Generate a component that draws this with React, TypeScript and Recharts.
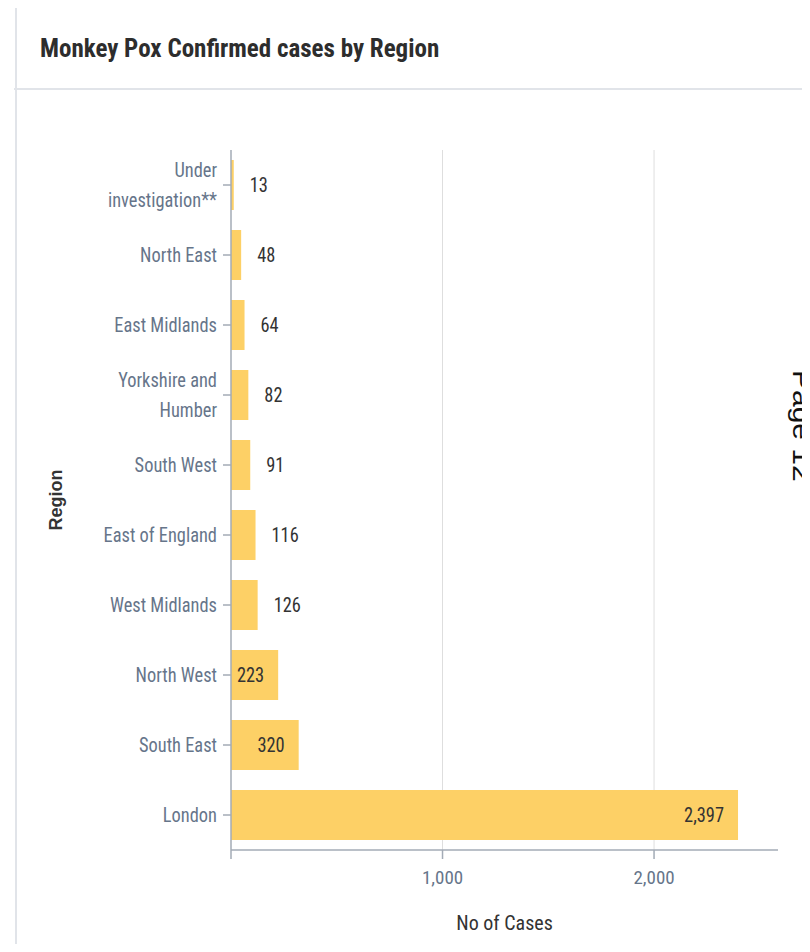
import { BarChart, Bar, XAxis, YAxis, CartesianGrid, LabelList } from "recharts";

const regions = [
  "Under<br>investigation**",
  "North East",
  "East Midlands",
  "Yorkshire and<br>Humber",
  "South West",
  "East of England",
  "West Midlands",
  "North West",
  "South East",
  "London",
];
const cases = [13, 48, 64, 82, 91, 116, 126, 223, 320, 2397];
const xTicks = [0, 1000, 2000];
const gridValues = [1000, 2000];
const xMax = 2586;

const data = regions.map((region, i) => ({ region, cases: cases[i] }));

const NARROW = '"Liberation Sans Narrow", "Arial Narrow", "Roboto Condensed", sans-serif';
const TICK_GREY = "#66758a";
const AXIS_GREY = "#a3abb6";
const BAR_COLOR = "#fdd066";
const SQUEEZE = 0.92;

function RegionTick(props: any) {
  const { x, y, payload } = props;
  const lines: string[] = String(payload.value).split("<br>");
  const start = -((lines.length - 1) * 30) / 2;
  return (
    <g transform={`translate(${x},${y}) scale(${SQUEEZE},1)`}>
      {lines.map((line, i) => (
        <text
          key={i}
          x={0}
          y={start + i * 30}
          textAnchor="end"
          dominantBaseline="central"
          fontFamily={NARROW}
          fontSize={20}
          fill={TICK_GREY}
        >
          {line}
        </text>
      ))}
    </g>
  );
}

function ValueLabel(props: any) {
  const { x, y, width, height, value } = props;
  const text = Number(value).toLocaleString("en-US");
  const inside = width > 40;
  const tx = inside ? x + width - 14 : x + width + 16;
  return (
    <g transform={`translate(${tx},${y + height / 2}) scale(${SQUEEZE},1)`}>
      <text
        x={0}
        y={0}
        textAnchor={inside ? "end" : "start"}
        dominantBaseline="central"
        fontFamily={NARROW}
        fontSize={20}
        fill="#333"
      >
        {text}
      </text>
    </g>
  );
}

export default function App() {
  return (
    <div style={{ position: "relative", width: 810, height: 952, margin: -8, background: "#fff", overflow: "hidden" }}>
      {/* card frame */}
      <div style={{ position: "absolute", left: 14, top: 6, right: 0, height: 2, background: "#e1e4e9" }} />
      <div style={{ position: "absolute", left: 14, top: 88, right: 0, height: 2, background: "#e1e4e9" }} />
      <div style={{ position: "absolute", left: 15, top: 6, bottom: 0, width: 2, background: "#e1e4e9" }} />
      <div
        style={{
          position: "absolute",
          left: 40,
          top: 33,
          fontFamily: NARROW,
          fontWeight: 700,
          fontSize: 25,
          color: "#2d2d2d",
          lineHeight: "32px",
        }}
      >
        Monkey Pox Confirmed cases by Region
      </div>

      <div style={{ position: "absolute", left: 0, top: 0 }}>
        <BarChart
          width={810}
          height={952}
          data={data}
          layout="vertical"
          margin={{ top: 150, right: 32, bottom: 12, left: 0 }}
          barSize={50}
        >
          <CartesianGrid
            horizontal={false}
            stroke="#dedede"
            strokeWidth={1}
            verticalCoordinatesGenerator={({ offset }: any) =>
              gridValues.map((v) => offset.left + (v / xMax) * offset.width)
            }
          />
          <XAxis
            type="number"
            domain={[0, xMax]}
            ticks={xTicks}
            height={90}
            stroke={AXIS_GREY}
            strokeWidth={1.5}
            tickSize={9}
            tickMargin={12}
            tick={{ fontFamily: NARROW, fontSize: 19, fill: TICK_GREY }}
            tickFormatter={(v: number) => (v === 0 ? "" : v.toLocaleString("en-US"))}
            label={{
              value: "No of Cases",
              position: "insideBottom",
              offset: 10,
              style: { fontFamily: NARROW, fontSize: 20, fill: "#333" },
            }}
          />
          <YAxis
            type="category"
            dataKey="region"
            width={231}
            stroke={AXIS_GREY}
            strokeWidth={1.5}
            tickSize={8}
            tickMargin={6}
            tick={<RegionTick />}
            interval={0}
          />
          <Bar dataKey="cases" fill={BAR_COLOR} isAnimationActive={false}>
            <LabelList dataKey="cases" content={<ValueLabel />} />
          </Bar>
        </BarChart>
      </div>

      <svg width={810} height={952} style={{ position: "absolute", left: 0, top: 0, pointerEvents: "none" }}>
        <text
          transform="translate(62,500) rotate(-90)"
          textAnchor="middle"
          fontFamily='"Liberation Sans", sans-serif'
          fontWeight={700}
          fontSize={18}
          fill="#333"
        >
          Region
        </text>
        <text
          transform="translate(793,370) rotate(90) scale(1,0.85)"
          fontFamily='"Liberation Sans", sans-serif'
          fontSize={30}
          fill="#111"
        >
          Page 12
        </text>
      </svg>
    </div>
  );
}
